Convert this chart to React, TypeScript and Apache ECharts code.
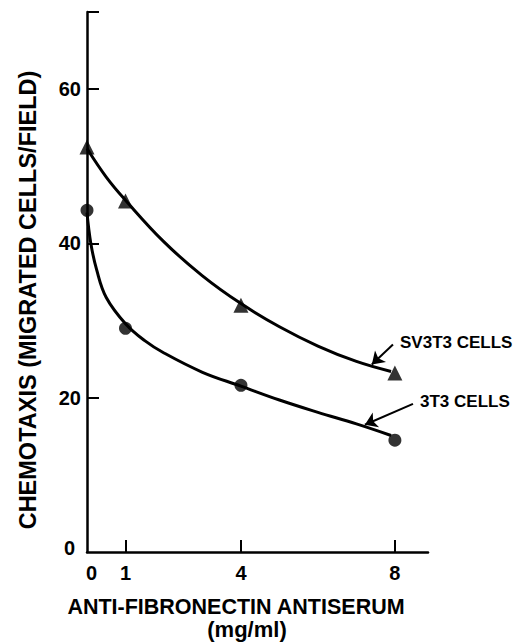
import React, { useEffect, useRef } from "react";
import * as echarts from "echarts";

// Measured points
const doseX = [0, 1, 4, 8];
const sv3t3Values = [52.5, 45.5, 32.0, 23.2];
const t3Values = [44.3, 29.0, 21.6, 14.5];

// Hand-drawn fitted curves
const sv3t3CurveX = [0, 0.5, 1, 2, 3, 4, 5, 6, 7, 7.9];
const sv3t3CurveY = [52.3, 48.6, 45.6, 40.2, 35.8, 32.2, 29.2, 26.7, 24.7, 23.4];
const t3CurveX = [0, 0.1, 0.25, 0.5, 1, 1.5, 2, 3, 4, 5, 6, 7, 7.9];
const t3CurveY = [44.0, 40.0, 36.6, 33.0, 29.6, 27.4, 25.8, 23.3, 21.5, 19.7, 18.1, 16.6, 15.1];

// Axis ticks
const xTickValues = [0, 1, 4, 8];
const yTickValues = [0, 20, 40, 60];

// Label arrows (from -> to, data units)
const sv3t3Arrow = [[7.95, 26.9], [7.4, 24.3]];
const t3Arrow = [[8.47, 19.2], [7.22, 16.5]];

const FONT = "'Liberation Sans', Arial, Helvetica, sans-serif";

export default function App() {
  const ref = useRef<HTMLDivElement>(null);
  useEffect(() => {
    if (!ref.current) return;
    const chart = echarts.init(ref.current, null, { renderer: "svg" });
    const zip = (xs: number[], ys: number[]) => xs.map((x, i) => [x, ys[i]]);
    chart.setOption({
      animation: false,
      backgroundColor: "#ffffff",
      grid: { left: 87, top: 12, width: 341, height: 540, containLabel: false, outerBoundsMode: "none" },
      xAxis: {
        type: "value",
        min: 0,
        max: 8.86,
        splitLine: { show: false },
        axisLine: { show: true, onZero: false, lineStyle: { color: "#000", width: 2.5 } },
        axisTick: { show: true, inside: true, length: 12, customValues: [1, 4, 8], lineStyle: { color: "#000", width: 2 } },
        axisLabel: {
          customValues: xTickValues,
          color: "#000",
          fontSize: 20,
          fontWeight: "bold",
          fontFamily: FONT,
          margin: 11,
          formatter: (v: number) => (v === 0 ? "{z|0}" : String(v)),
          rich: { z: { fontSize: 20, fontWeight: "bold", fontFamily: FONT, color: "#000", padding: [0, 0, 0, 9] } },
        },
      },
      yAxis: {
        type: "value",
        min: 0,
        max: 70,
        splitLine: { show: false },
        axisLine: { show: true, lineStyle: { color: "#000", width: 2.5 } },
        axisTick: { show: true, inside: true, length: 12, customValues: [20, 40, 60, 70], lineStyle: { color: "#000", width: 2 } },
        axisLabel: {
          customValues: yTickValues,
          color: "#000",
          fontSize: 20,
          fontWeight: "bold",
          fontFamily: FONT,
          margin: 6,
          formatter: (v: number) => (v === 0 ? "{z|0}" : String(v)),
          rich: { z: { fontSize: 20, fontWeight: "bold", fontFamily: FONT, color: "#000", padding: [0, 6, 8, 0] } },
        },
      },
      series: [
        {
          type: "line",
          data: zip(sv3t3CurveX, sv3t3CurveY),
          smooth: 0.4,
          showSymbol: false,
          lineStyle: { color: "#000", width: 3 },
          z: 2,
        },
        {
          type: "line",
          data: zip(t3CurveX, t3CurveY),
          smooth: 0.4,
          showSymbol: false,
          lineStyle: { color: "#000", width: 3 },
          z: 2,
        },
        {
          type: "scatter",
          data: zip(doseX, sv3t3Values),
          symbol: "triangle",
          symbolSize: 15,
          itemStyle: { color: "#000" },
          z: 3,
        },
        {
          type: "scatter",
          data: zip(doseX, t3Values),
          symbol: "circle",
          symbolSize: 13,
          itemStyle: { color: "#000" },
          z: 3,
        },
        {
          type: "lines",
          coordinateSystem: "cartesian2d",
          symbol: ["none", "arrow"],
          symbolSize: [7, 12],
          lineStyle: { color: "#000", width: 2, opacity: 1 },
          data: [{ coords: sv3t3Arrow }, { coords: t3Arrow }],
          z: 4,
        },
      ],
      graphic: [
        {
          type: "text",
          x: 28,
          y: 300,
          rotation: Math.PI / 2,
          style: {
            text: "CHEMOTAXIS (MIGRATED CELLS/FIELD)",
            fill: "#000",
            font: `bold 23.5px ${FONT}`,
            textAlign: "center",
            textVerticalAlign: "middle",
          },
        },
        {
          type: "text",
          x: 236,
          y: 607,
          style: {
            text: "ANTI-FIBRONECTIN ANTISERUM",
            fill: "#000",
            font: `bold 21.5px ${FONT}`,
            textAlign: "center",
            textVerticalAlign: "middle",
          },
        },
        {
          type: "text",
          x: 247,
          y: 629,
          style: {
            text: "(mg/ml)",
            fill: "#000",
            font: `bold 22px ${FONT}`,
            textAlign: "center",
            textVerticalAlign: "middle",
          },
        },
        {
          type: "text",
          x: 400,
          y: 342,
          style: {
            text: "SV3T3 CELLS",
            fill: "#000",
            font: `bold 17px ${FONT}`,
            textAlign: "left",
            textVerticalAlign: "middle",
          },
        },
        {
          type: "text",
          x: 420,
          y: 401,
          style: {
            text: "3T3 CELLS",
            fill: "#000",
            font: `bold 17px ${FONT}`,
            textAlign: "left",
            textVerticalAlign: "middle",
          },
        },
      ],
    });
    return () => chart.dispose();
  }, []);
  return (
    <div
      ref={ref}
      style={{ position: "fixed", left: 0, top: 0, width: 515, height: 643, background: "#fff" }}
    />
  );
}
